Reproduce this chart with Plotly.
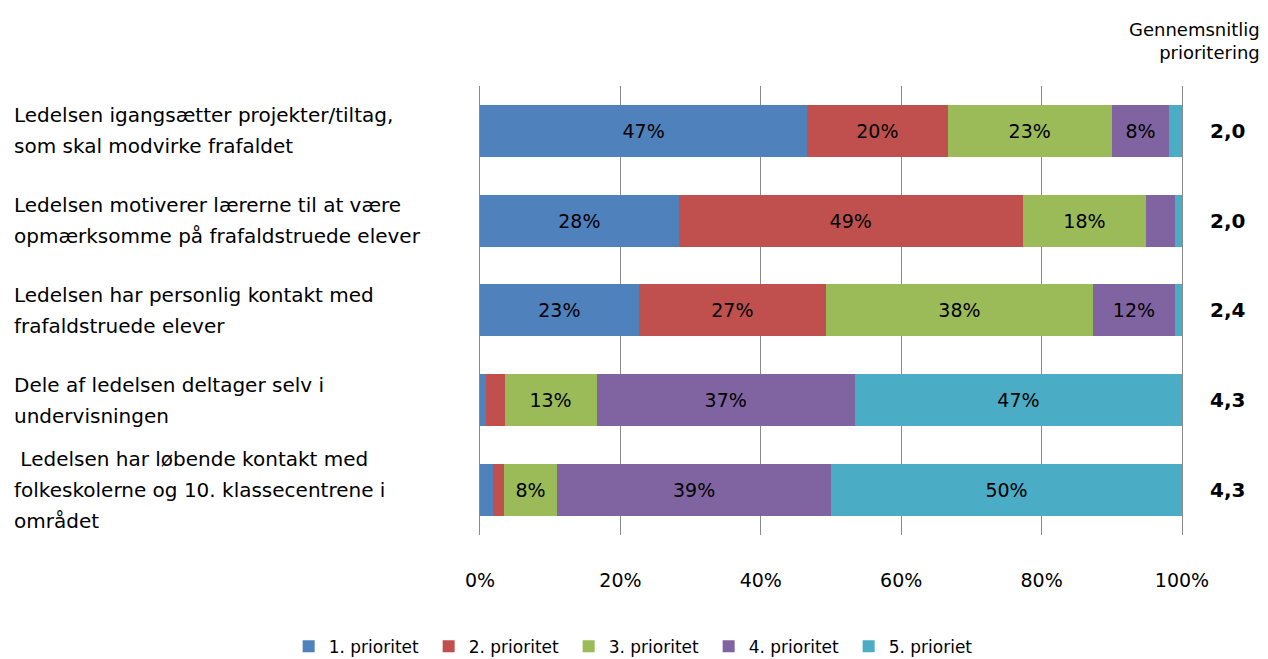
import plotly.graph_objects as go

categories = [
    "Ledelsen igangsætter projekter/tiltag,<br>som skal modvirke frafaldet",
    "Ledelsen motiverer lærerne til at være<br>opmærksomme på frafaldstruede elever",
    "Ledelsen har personlig kontakt med<br>frafaldstruede elever",
    "Dele af ledelsen deltager selv i<br>undervisningen",
    "\u00a0Ledelsen har løbende kontakt med<br>folkeskolerne og 10. klassecentrene i<br>området",
]
series_names = ["1. prioritet", "2. prioritet", "3. prioritet", "4. prioritet", "5. prioriet"]
p1 = [46.6, 28.3, 22.6, 0.9, 1.8]
p2 = [20.0, 49.0, 26.7, 2.6, 1.6]
p3 = [23.4, 17.6, 38.0, 13.1, 7.6]
p4 = [8.2, 4.1, 11.7, 36.8, 39.0]
p5 = [1.8, 1.0, 1.0, 46.6, 50.0]
averages = [2.0, 2.0, 2.4, 4.3, 4.3]
x_ticks = [0, 20, 40, 60, 80, 100]

colors = ["#4F81BD", "#C0504D", "#9BBB59", "#8064A2", "#4BACC6"]
font = "DejaVu Sans"
ids = [str(i) for i in range(len(categories))]

fig = go.Figure()
for name, vals, col in zip(series_names, [p1, p2, p3, p4, p5], colors):
    fig.add_trace(go.Bar(
        y=ids, x=vals, name=name, orientation="h",
        marker=dict(color=col, line=dict(width=0)),
        text=[f"{v:.0f}%" if v >= 5 else "" for v in vals],
        textposition="inside", insidetextanchor="middle",
        textfont=dict(color="black", size=19, family=font),
        hoverinfo="skip",
    ))

# category labels on the left, left aligned, one annotation per line for Excel-like spacing
line_h = 31
for cid, lab in zip(ids, categories):
    lines = lab.split("<br>")
    for i, ln in enumerate(lines):
        off = ((len(lines) - 1) / 2 - i) * line_h
        fig.add_annotation(x=-0.666, xref="paper", y=cid, yref="y", text=ln, yshift=off,
                           showarrow=False, xanchor="left", yanchor="middle", align="left",
                           font=dict(size=20, color="black", family=font))

# average column on the right
for cid, avg in zip(ids, averages):
    fig.add_annotation(x=1.0655, xref="paper", y=cid, yref="y",
                       text=f"<b>{avg:.1f}</b>".replace(".", ","),
                       showarrow=False, xanchor="center", yanchor="middle",
                       font=dict(size=20, color="black", family=font))

fig.add_annotation(x=1.114, xref="paper", y=1.1, yref="paper",
                   text="Gennemsnitlig<br>prioritering", showarrow=False,
                   xanchor="right", yanchor="middle", align="right",
                   font=dict(size=18, color="black", family=font))

fig.update_layout(
    barmode="stack",
    bargap=0.42,
    width=1268, height=659,
    margin=dict(l=480, r=86, t=86, b=124, autoexpand=False),
    paper_bgcolor="white", plot_bgcolor="white",
    font=dict(family=font, color="black"),
    uniformtext=dict(minsize=19, mode="show"),
    legend=dict(orientation="h", x=0.226, xanchor="center",
                y=-0.249, yanchor="middle", traceorder="normal",
                font=dict(size=17, family=font), entrywidth=95,
                entrywidthmode="pixels", itemwidth=30, itemclick=False),
    xaxis=dict(range=[0, 100], tickvals=x_ticks, ticktext=[f"{t}%" for t in x_ticks],
               tickangle=0, showgrid=True, gridcolor="#8A8A8A", gridwidth=1, zeroline=False,
               showline=False, ticks="outside", ticklen=28, tickcolor="rgba(0,0,0,0)",
               tickfont=dict(size=19, family=font), fixedrange=True),
    yaxis=dict(autorange="reversed", showticklabels=False, showgrid=False,
               zeroline=False, showline=True, mirror=True, linecolor="#8A8A8A",
               linewidth=1, fixedrange=True),
)

fig.write_html("out.html", config=dict(displayModeBar=False),
               post_script="document.body.style.margin='0';")
